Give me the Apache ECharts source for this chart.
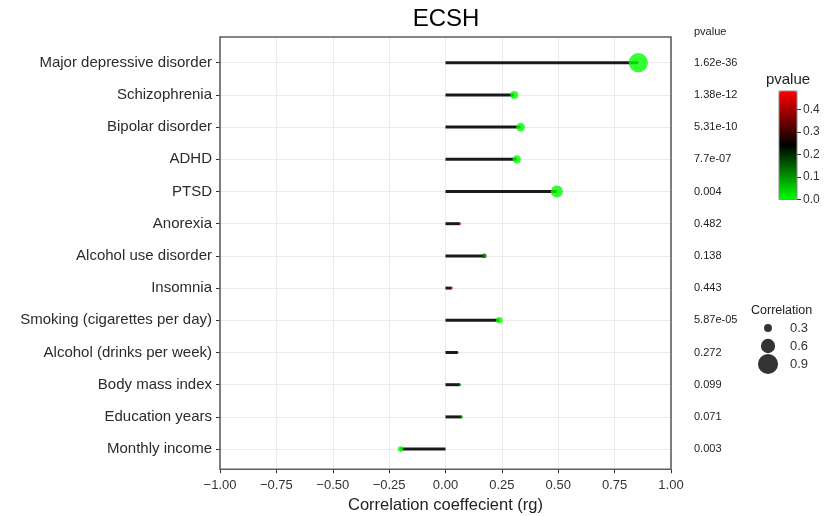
<!DOCTYPE html>
<html>
<head>
<meta charset="utf-8">
<script src="https://cdn.jsdelivr.net/npm/echarts@6/dist/echarts.min.js"></script>
<style>html,body{margin:0;padding:0;background:#fff}#c{width:828px;height:516px}</style>
</head>
<body>
<div id="c"></div>
<script>
var categories = ['Major depressive disorder','Schizophrenia','Bipolar disorder','ADHD','PTSD','Anorexia','Alcohol use disorder','Insomnia','Smoking (cigarettes per day)','Alcohol (drinks per week)','Body mass index','Education years','Monthly income'];
var rg = [0.855, 0.305, 0.333, 0.316, 0.494, 0.064, 0.172, 0.027, 0.239, 0.052, 0.064, 0.072, -0.199];
var pvalueLabels = ['1.62e-36','1.38e-12','5.31e-10','7.7e-07','0.004','0.482','0.138','0.443','5.87e-05','0.272','0.099','0.071','0.003'];
var pvalues = pvalueLabels.map(Number);
var sizeLegendValues = [0.3, 0.6, 0.9];
var pvalueMax = 0.482;

var FONT = 'Liberation Sans, Arial, Helvetica, sans-serif';
function dotSize(v) { return Math.max(2.5, 22 * Math.pow(Math.abs(v), 0.85)); }
function minusFmt(v) { var s = Math.abs(v).toFixed(2); return v < 0 ? '\u2212' + s : s; }

var chart = echarts.init(document.getElementById('c'), null, {renderer: 'canvas'});
var option = {
  backgroundColor: '#fff',
  textStyle: {fontFamily: FONT},
  animation: false,
  title: [
    {text: 'ECSH', left: 446, top: 7, textAlign: 'center', padding: 0,
     textStyle: {fontSize: 24, fontWeight: 'normal', color: '#000', fontFamily: FONT}},
    {text: 'pvalue', left: 694, top: 26, padding: 0,
     textStyle: {fontSize: 11, fontWeight: 'normal', color: '#222', fontFamily: FONT}},
    {text: 'pvalue', left: 788, top: 72, textAlign: 'center', padding: 0,
     textStyle: {fontSize: 15, fontWeight: 'normal', color: '#222', fontFamily: FONT}},
    {text: 'Correlation', left: 751, top: 304, padding: 0,
     textStyle: {fontSize: 12.5, fontWeight: 'normal', color: '#222', fontFamily: FONT}}
  ],
  grid: [
    {left: 220, right: 157, top: 46.6, bottom: 50.8, show: false, outerBoundsMode: 'none', containLabel: false},
    {left: 220, right: 157, top: 37, bottom: 46.7, show: true, borderColor: '#5e5e5e', borderWidth: 1.6, backgroundColor: 'transparent', z: 5, outerBoundsMode: 'none', containLabel: false},
    {left: 779, top: 91, width: 18, height: 108.5, show: true, borderColor: '#8a8a8a', borderWidth: 1, z: 10, outerBoundsMode: 'none', containLabel: false},
    {left: 760, top: 328, width: 16, height: 36, show: false, outerBoundsMode: 'none', containLabel: false}
  ],
  xAxis: [
    {gridIndex: 0, type: 'value', min: -1, max: 1, show: false},
    {gridIndex: 1, type: 'value', min: -1, max: 1, interval: 0.25, position: 'bottom',
     axisLine: {show: false, onZero: false},
     axisTick: {show: true, length: 4, lineStyle: {color: '#333', width: 1}},
     axisLabel: {fontSize: 13, color: '#333', margin: 10, formatter: minusFmt, fontFamily: FONT},
     splitLine: {show: true, showMinLine: false, showMaxLine: false, lineStyle: {color: '#ebebeb', width: 1}},
     name: 'Correlation coeffecient (rg)', nameLocation: 'middle', nameGap: 27,
     nameTextStyle: {fontSize: 16.5, color: '#222', fontFamily: FONT}},
    {gridIndex: 2, type: 'value', min: 0, max: 1, show: false},
    {gridIndex: 3, type: 'value', min: -1, max: 1, show: false}
  ],
  yAxis: [
    {gridIndex: 0, type: 'category', data: categories, inverse: true, position: 'left',
     axisLine: {show: false, onZero: false},
     axisTick: {show: true, alignWithLabel: true, length: 4, lineStyle: {color: '#333'}},
     axisLabel: {fontSize: 15, color: '#2b2b2b', margin: 8, fontFamily: FONT},
     splitLine: {show: true, alignWithLabel: true, lineStyle: {color: '#ebebeb', width: 1}}},
    {gridIndex: 0, type: 'category', data: pvalueLabels, inverse: true, position: 'right', offset: 23,
     axisLine: {show: false, onZero: false}, axisTick: {show: false},
     axisLabel: {fontSize: 11, color: '#222', margin: 0, align: 'left', fontFamily: FONT},
     splitLine: {show: false}},
    {gridIndex: 1, type: 'value', min: 0, max: 1, show: false},
    {gridIndex: 2, type: 'value', min: 0, max: pvalueMax, interval: 0.1, position: 'right',
     axisLine: {show: false, onZero: false},
     axisTick: {show: true, length: 4, lineStyle: {color: '#333'}},
     axisLabel: {fontSize: 12, color: '#333', margin: 6, showMaxLabel: false,
                 formatter: function (v) { return v.toFixed(1); }, fontFamily: FONT},
     splitLine: {show: false}},
    {gridIndex: 3, type: 'value', min: 0.3, max: 0.9, interval: 0.3, inverse: true, position: 'right',
     axisLine: {show: false, onZero: false}, axisTick: {show: false},
     axisLabel: {fontSize: 13, color: '#333', margin: 14, formatter: function (v) { return v.toFixed(1); }, fontFamily: FONT},
     splitLine: {show: false}}
  ],
  visualMap: [{
    type: 'continuous', min: 0, max: pvalueMax, dimension: 2, seriesIndex: 1,
    left: 779, top: 91, itemWidth: 18, itemHeight: 108.5, padding: 0,
    calculable: false, showLabel: false, text: null, hoverLink: false,
    inRange: {color: ['#00ff00', '#000000', '#ff0000']}
  }],
  series: [
    {type: 'bar', xAxisIndex: 0, yAxisIndex: 0, barWidth: 3,
     itemStyle: {color: '#1a1a1a'}, data: rg, z: 2, silent: true},
    {type: 'scatter', xAxisIndex: 0, yAxisIndex: 0, symbol: 'circle',
     symbolSize: function (val) { return dotSize(val[0]); },
     data: rg.map(function (v, i) { return [v, categories[i], pvalues[i]]; }), z: 3, silent: true},
    {type: 'scatter', xAxisIndex: 3, yAxisIndex: 4, symbol: 'circle',
     symbolSize: function (val) { return dotSize(val[1]); },
     itemStyle: {color: '#000'},
     data: sizeLegendValues.map(function (v) { return [0, v]; }), z: 3, silent: true}
  ]
};
chart.setOption(option);
</script>
</body>
</html>
